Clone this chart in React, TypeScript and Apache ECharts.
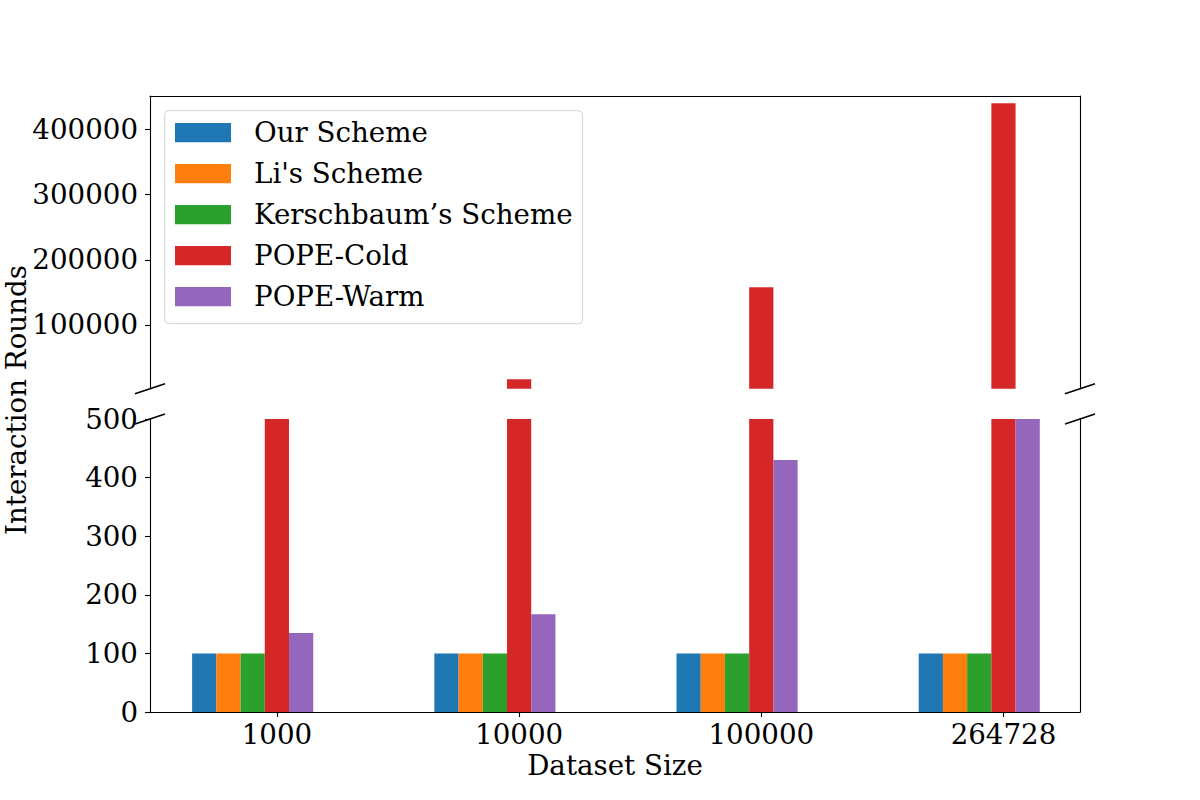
import React, { useEffect, useRef } from "react";
import * as echarts from "echarts";

const categories = ["1000", "10000", "100000", "264728"];
const seriesNames = ["Our Scheme", "Li's Scheme", "Kerschbaum\u2019s Scheme", "POPE-Cold", "POPE-Warm"];
const ourScheme = [100, 100, 100, 100];
const lisScheme = [100, 100, 100, 100];
const kerschbaumScheme = [100, 100, 100, 100];
const popeCold = [1800, 17000, 158000, 440000];
const popeWarm = [135, 167, 430, 1000];
const seriesColors = ["#1f77b4", "#ff7f0e", "#2ca02c", "#d62728", "#9467bd"];
const topTicks = [100000, 200000, 300000, 400000];
const bottomTicks = [0, 100, 200, 300, 400, 500];
const xTickOffset = 0.1;

const FONT = "DejaVu Serif";
const FS = 27.7;

export default function App() {
  const ref = useRef<HTMLDivElement>(null);
  useEffect(() => {
    document.body.style.margin = "0";
    const chart = echarts.init(ref.current!, null, { renderer: "svg" });
    const allValues = [ourScheme, lisScheme, kerschbaumScheme, popeCold, popeWarm];
    const L = 150, R = 1080, T1 = 96, B1 = 388.7, T2 = 419, B2 = 712;
    const xMin = -0.424, xMax = 3.416;
    const xTickVals = categories.map((_, i) => i + xTickOffset);
    const lineStyle = { color: "#000", width: 1.1 };
    const labelStyle = { fontFamily: FONT, fontSize: FS, color: "#000" };
    const plain = (v: number) => String(v);

    const series: any[] = [];
    allValues.forEach((vals, s) => {
      [0, 1].forEach((g) => {
        series.push({
          type: "bar",
          name: seriesNames[s],
          xAxisIndex: g,
          yAxisIndex: g === 0 ? 0 : 2,
          data: vals.map((v, i) => [i, v]),
          barWidth: "10%",
          barGap: "0%",
          itemStyle: { color: seriesColors[s] },
          clip: true,
          silent: true,
        });
      });
    });

    const brk = (cx: number, cy: number) => ({
      type: "line",
      shape: { x1: cx - 15, y1: cy + 5, x2: cx + 15, y2: cy - 5 },
      style: { stroke: "#000", lineWidth: 1.5 },
      z: 100,
    });

    chart.setOption({
      animation: false,
      grid: [
        { left: L, right: 1200 - R, top: T1, height: B1 - T1 },
        { left: L, right: 1200 - R, top: T2, height: B2 - T2 },
      ],
      legend: {
        data: seriesNames,
        orient: "vertical",
        left: 164.7,
        top: 110.7,
        itemWidth: 56,
        itemHeight: 19.3,
        itemGap: 11,
        icon: "rect",
        selectedMode: false,
        padding: [7, 10, 12, 10.3],
        backgroundColor: "rgba(255,255,255,0.8)",
        borderColor: "#d4d4d4",
        borderWidth: 1,
        borderRadius: 4,
        textStyle: { ...labelStyle, lineHeight: 30, padding: [0, 0, 0, 18] },
      },
      xAxis: [
        {
          type: "value", gridIndex: 0, position: "top", min: xMin, max: xMax,
          axisLine: { show: true, onZero: false, lineStyle },
          axisTick: { show: false }, axisLabel: { show: false }, splitLine: { show: false },
        },
        {
          type: "value", gridIndex: 1, position: "bottom", min: xMin, max: xMax,
          axisLine: { show: true, onZero: false, lineStyle },
          axisTick: { show: true, length: 5, lineStyle, customValues: xTickVals },
          axisLabel: {
            ...labelStyle, margin: 8, customValues: xTickVals,
            formatter: (v: number) => categories[Math.round(v - xTickOffset)] ?? "",
          },
          splitLine: { show: false },
        },
      ],
      yAxis: [
        {
          type: "value", gridIndex: 0, position: "left", min: 2350, max: 451000,
          axisLine: { show: true, onZero: false, lineStyle },
          axisTick: { show: true, length: 5, lineStyle, customValues: topTicks },
          axisLabel: { ...labelStyle, margin: 12, customValues: topTicks, formatter: plain },
          splitLine: { show: false },
        },
        {
          type: "value", gridIndex: 0, position: "right", min: 0, max: 1,
          axisLine: { show: true, onZero: false, lineStyle },
          axisTick: { show: false }, axisLabel: { show: false }, splitLine: { show: false },
        },
        {
          type: "value", gridIndex: 1, position: "left", min: 0, max: 500,
          axisLine: { show: true, onZero: false, lineStyle },
          axisTick: { show: true, length: 5, lineStyle, customValues: bottomTicks },
          axisLabel: { ...labelStyle, margin: 12, customValues: bottomTicks, formatter: plain },
          splitLine: { show: false },
        },
        {
          type: "value", gridIndex: 1, position: "right", min: 0, max: 1,
          axisLine: { show: true, onZero: false, lineStyle },
          axisTick: { show: false }, axisLabel: { show: false }, splitLine: { show: false },
        },
      ],
      graphic: [
        brk(L, B1), brk(R, B1), brk(L, T2), brk(R, T2),
        {
          type: "text", x: 615, y: 765,
          style: { text: "Dataset Size", font: `${FS}px "${FONT}"`, fill: "#000", align: "center", verticalAlign: "middle" },
        },
        {
          type: "text", x: 16, y: 400, rotation: Math.PI / 2,
          style: { text: "Interaction Rounds", font: `${FS}px "${FONT}"`, fill: "#000", align: "center", verticalAlign: "middle" },
        },
      ],
      series,
    });
    return () => chart.dispose();
  }, []);
  return <div ref={ref} style={{ width: 1200, height: 800 }} />;
}
